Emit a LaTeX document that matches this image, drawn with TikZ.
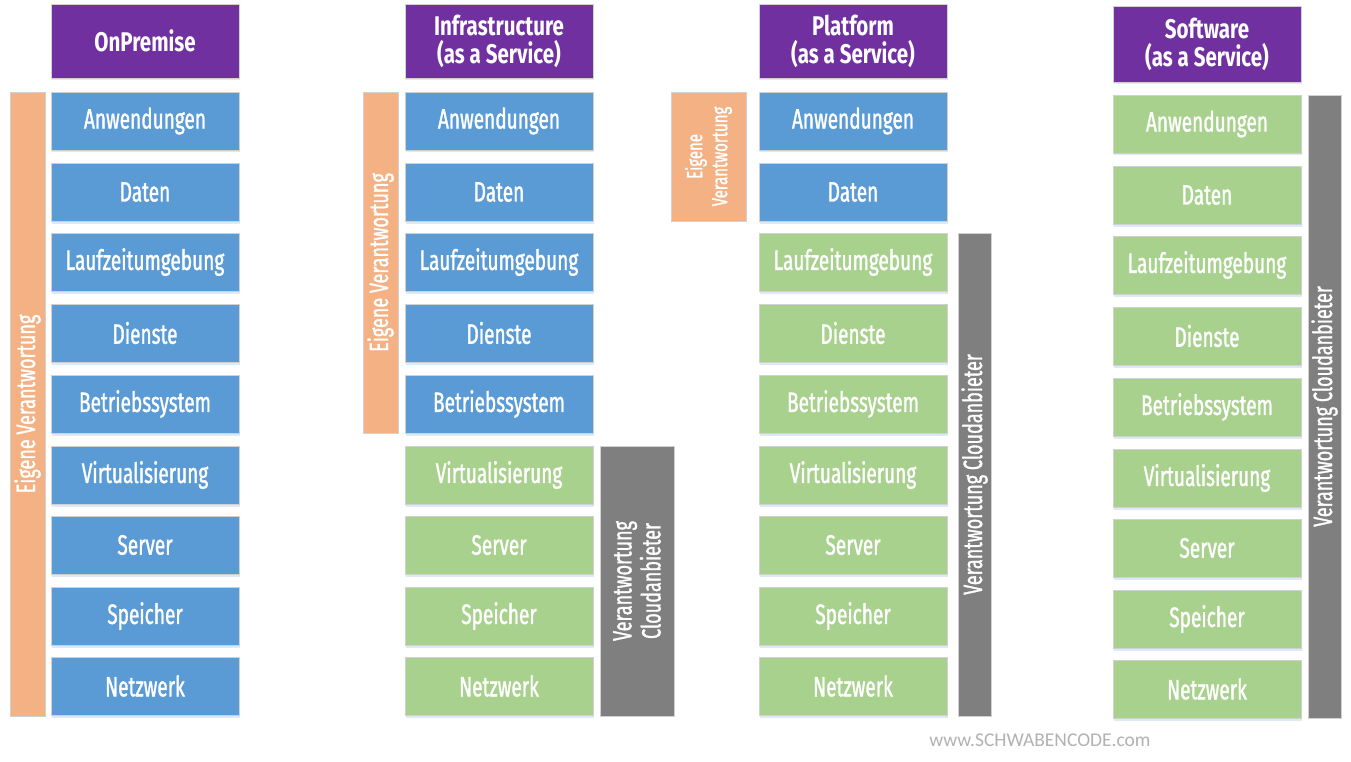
\documentclass[tikz,border=0pt]{standalone}
\usepackage{fontspec}
\setmainfont[FakeStretch=0.68, FakeBold=1.2]{Fira Sans}
\newfontfamily\headfont[FakeStretch=0.76]{Fira Sans}
\newfontfamily\wwwfont{Carlito}
\usetikzlibrary{shadows}
\definecolor{cpurple}{HTML}{7030A0}
\definecolor{cblue}{HTML}{5B9BD5}
\definecolor{cgreen}{HTML}{A9D18E}
\definecolor{corange}{HTML}{F4B183}
\definecolor{cgray}{HTML}{7F7F7F}
\definecolor{cshadow}{HTML}{D6E4F5}
\tikzset{
  base/.style={draw=black!18, line width=0.8pt, text=white, align=center, inner sep=0pt,
    drop shadow={shadow xshift=0.8pt, shadow yshift=-2.5pt, fill=cshadow, opacity=0.8}},
  layer/.style={base, minimum width=188pt, minimum height=58pt, font=\fontsize{28}{30}\selectfont},
  bluebox/.style={layer, fill=cblue},
  greenbox/.style={layer, fill=cgreen},
  headbox/.style={base, fill=cpurple, minimum width=188pt, minimum height=74pt,
    font=\headfont\fontsize{27}{28}\bfseries\selectfont},
  bar/.style={draw=black!18, line width=0.8pt, text=white, align=center, inner sep=0pt, rotate=90,
    font=\fontsize{26.5}{29}\selectfont},
  obar/.style={bar, fill=corange},
  gbar/.style={bar, fill=cgray},
}
\begin{document}
\begin{tikzpicture}[x=1pt,y=-1pt]
\useasboundingbox[fill=white] (0,0) rectangle (1351,762);
% Column 1
\node[headbox] (h1) at (145,41) {OnPremise};
\node[bluebox] (a1) at (145,121) {Anwendungen};
\node[bluebox] (b1) at (145,192) {Daten};
\node[bluebox] (c1) at (145,262) {Laufzeitumgebung};
\node[bluebox] (d1) at (145,333) {Dienste};
\node[bluebox] (e1) at (145,404) {Betriebssystem};
\node[bluebox] (f1) at (145,475) {Virtualisierung};
\node[bluebox] (g1) at (145,545) {Server};
\node[bluebox] (i1) at (145,616) {Speicher};
\node[bluebox] (j1) at (145,686) {Netzwerk};
\node[obar, minimum width=624pt, minimum height=35pt] (o1) at (27.5,404) {Eigene Verantwortung};
% Column 2
\node[headbox] (h2) at (499,41) {Infrastructure\\(as a Service)};
\node[bluebox] (a2) at (499,121) {Anwendungen};
\node[bluebox] (b2) at (499,192) {Daten};
\node[bluebox] (c2) at (499,262) {Laufzeitumgebung};
\node[bluebox] (d2) at (499,333) {Dienste};
\node[bluebox] (e2) at (499,404) {Betriebssystem};
\node[greenbox] (f2) at (499,475) {Virtualisierung};
\node[greenbox] (g2) at (499,545) {Server};
\node[greenbox] (i2) at (499,616) {Speicher};
\node[greenbox] (j2) at (499,686) {Netzwerk};
\node[obar, minimum width=341pt, minimum height=35pt] (o2) at (380.5,262.5) {Eigene Verantwortung};
\node[gbar, minimum width=270pt, minimum height=74pt] (v2) at (637,581) {Verantwortung\\Cloudanbieter};
% Column 3
\node[headbox] (h3) at (853,41) {Platform\\(as a Service)};
\node[bluebox] (a3) at (853,121) {Anwendungen};
\node[bluebox] (b3) at (853,192) {Daten};
\node[greenbox] (c3) at (853,262) {Laufzeitumgebung};
\node[greenbox] (d3) at (853,333) {Dienste};
\node[greenbox] (e3) at (853,404) {Betriebssystem};
\node[greenbox] (f3) at (853,475) {Virtualisierung};
\node[greenbox] (g3) at (853,545) {Server};
\node[greenbox] (i3) at (853,616) {Speicher};
\node[greenbox] (j3) at (853,686) {Netzwerk};
\node[obar, minimum width=129pt, minimum height=75pt, font=\fontsize{22}{25}\selectfont] (o3) at (708.5,156.5) {Eigene\\Verantwortung};
\node[gbar, minimum width=483pt, minimum height=33pt] (v3) at (974.5,474.5) {Verantwortung Cloudanbieter};
% Column 4
\node[headbox, minimum height=76pt] (h4) at (1207,44) {Software\\(as a Service)};
\node[greenbox] (a4) at (1207,124) {Anwendungen};
\node[greenbox] (b4) at (1207,195) {Daten};
\node[greenbox] (c4) at (1207,265) {Laufzeitumgebung};
\node[greenbox] (d4) at (1207,336) {Dienste};
\node[greenbox] (e4) at (1207,407) {Betriebssystem};
\node[greenbox] (f4) at (1207,478) {Virtualisierung};
\node[greenbox] (g4) at (1207,548) {Server};
\node[greenbox] (i4) at (1207,619) {Speicher};
\node[greenbox] (j4) at (1207,689) {Netzwerk};
\node[gbar, minimum width=623pt, minimum height=33pt] (v4) at (1324.5,406.5) {Verantwortung Cloudanbieter};
% Watermark
\node[font=\wwwfont\fontsize{19.5}{22}\selectfont, text=black!30, inner sep=0pt] (www) at (1040,740) {www.SCHWABENCODE.com};
\end{tikzpicture}
\end{document}
